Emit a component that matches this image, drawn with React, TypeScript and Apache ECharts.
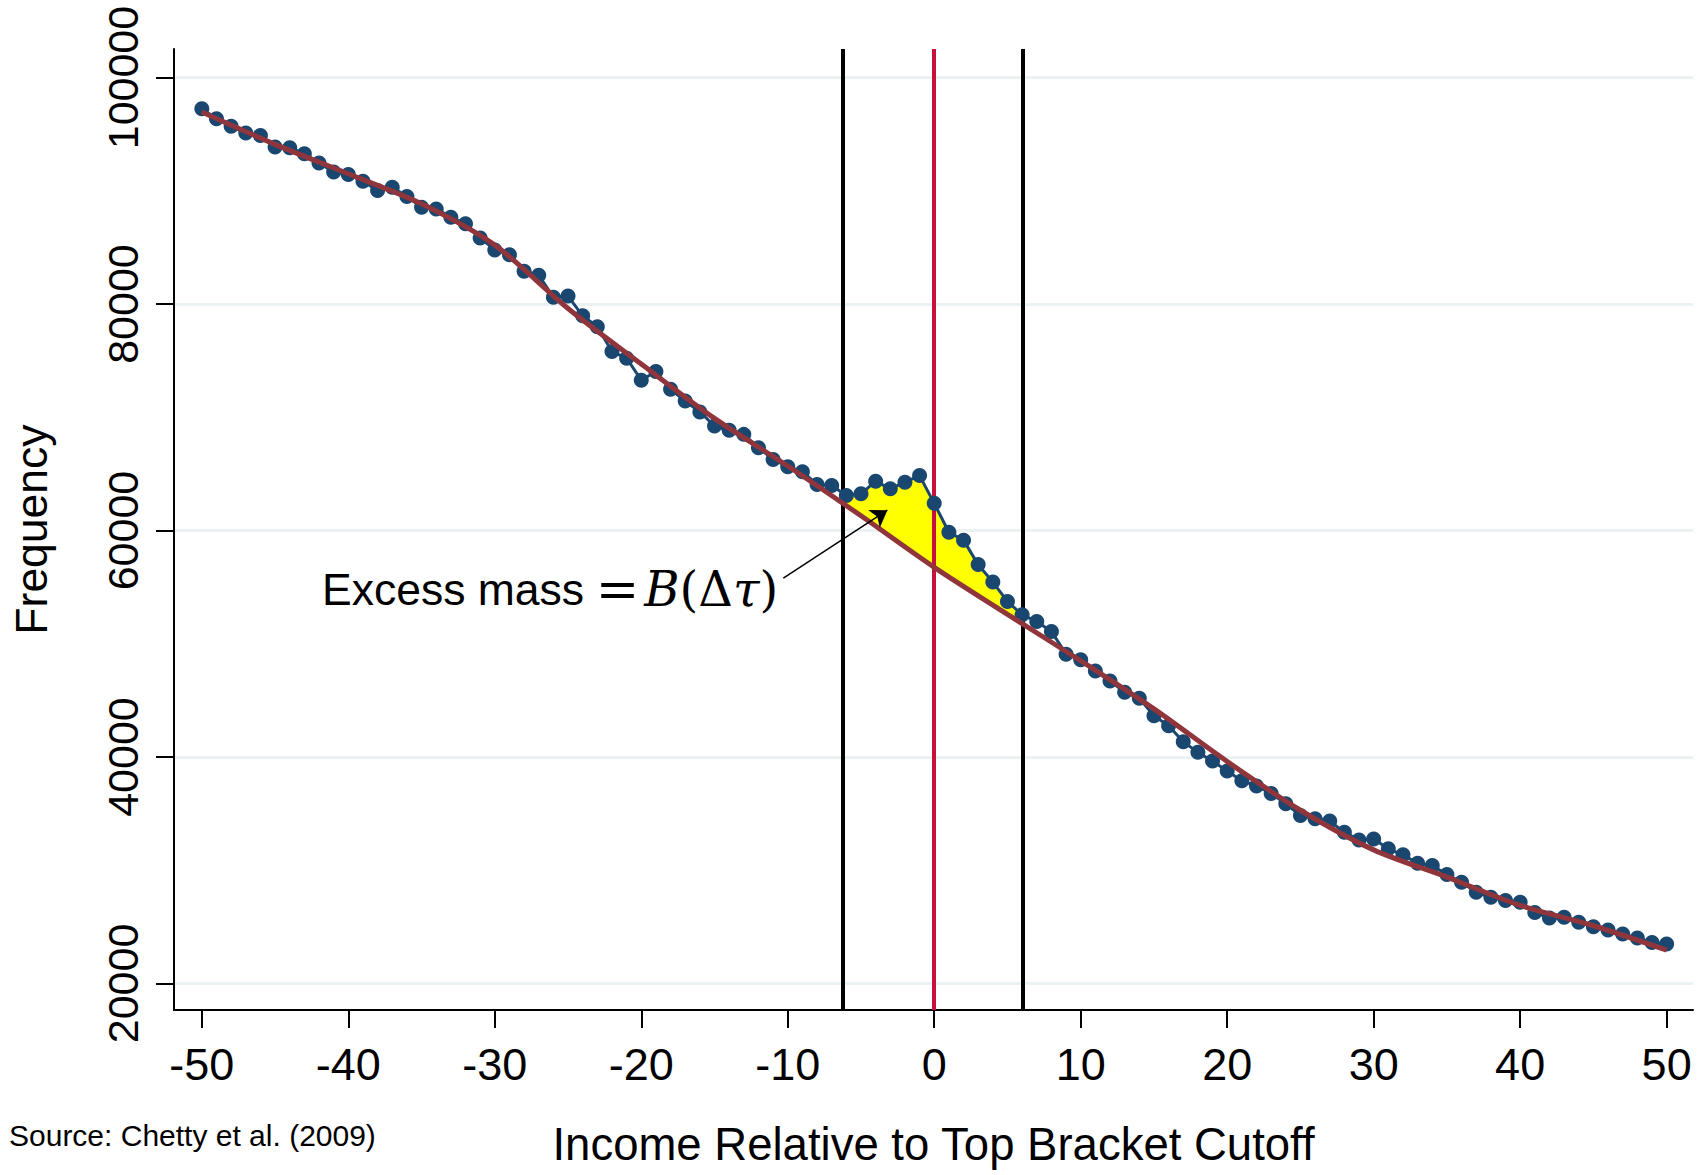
import React, { useEffect, useRef } from "react";
import * as echarts from "echarts";

// ---------- data ----------
const incomeBins = [
  -50, -49, -48, -47, -46, -45, -44, -43, -42, -41,
  -40, -39, -38, -37, -36, -35, -34, -33, -32, -31,
  -30, -29, -28, -27, -26, -25, -24, -23, -22, -21,
  -20, -19, -18, -17, -16, -15, -14, -13, -12, -11,
  -10, -9, -8, -7, -6, -5, -4, -3, -2, -1,
  0, 1, 2, 3, 4, 5, 6, 7, 8, 9,
  10, 11, 12, 13, 14, 15, 16, 17, 18, 19,
  20, 21, 22, 23, 24, 25, 26, 27, 28, 29,
  30, 31, 32, 33, 34, 35, 36, 37, 38, 39,
  40, 41, 42, 43, 44, 45, 46, 47, 48, 49,
  50,
];

const frequencyCounts = [
  97250, 96370, 95690, 95100, 94890, 93860, 93800, 93270, 92450, 91650,
  91440, 90850, 90030, 90320, 89500, 88550, 88400, 87670, 87080, 85840,
  84780, 84360, 82900, 82550, 80600, 80700, 78960, 78000, 75800, 75220,
  73270, 74040, 72470, 71440, 70470, 69230, 68850, 68490, 67310, 66280,
  65630, 65190, 64070, 63980, 63090, 63240, 64360, 63680, 64270, 64850,
  62400, 59850, 59150, 56990, 55450, 53740, 52560, 51970, 51090, 49080,
  48580, 47600, 46720, 45720, 45190, 43650, 42770, 41350, 40410, 39640,
  38760, 37900, 37450, 36780, 35870, 34840, 34540, 34340, 33360, 32680,
  32770, 31890, 31360, 30620, 30410, 29620, 28940, 28050, 27610, 27320,
  27170, 26280, 25780, 25840, 25400, 25010, 24720, 24370, 24010, 23630,
  23480,
];

// counterfactual (fitted) distribution, read every 5 units
const fitBins = [-50, -45, -40, -35, -30, -25, -20, -15, -10, -5, 0, 5, 10, 15, 20, 25, 30, 35, 40, 45, 50];
const fitCounts = [
  96950, 94100, 91500, 88850, 85200, 79600, 74700, 69900, 65700, 61300,
  56750, 52600, 48500, 44250, 39600, 35300, 31800, 29400, 26900, 25100, 22950,
];

// excluded window around the kink and the fitted values where it meets the window edges
const windowEdges = [-6.25, 6.05];
const windowEdgeFit = [62250, 51800];
const bracketCutoff = 0;

const xTickValues = [-50, -40, -30, -20, -10, 0, 10, 20, 30, 40, 50];
const yTickValues = [20000, 40000, 60000, 80000, 100000];

const arrowTail = [-10.3, 55800];
const arrowHead = [-3.2, 61800];

const SANS = "'Liberation Sans', Arial, Helvetica, sans-serif";
const SERIF = "'DejaVu Serif', 'Liberation Serif', 'Times New Roman', serif";

function pointOnPolyline(xs: number[], ys: number[], x: number): number {
  for (let i = 0; i < xs.length - 1; i++) {
    if (x >= xs[i] && x <= xs[i + 1]) {
      const t = (x - xs[i]) / (xs[i + 1] - xs[i]);
      return ys[i] + t * (ys[i + 1] - ys[i]);
    }
  }
  return ys[ys.length - 1];
}

function excessMassPolygon(): number[][] {
  const [lo, hi] = windowEdges;
  const pts: number[][] = [[lo, pointOnPolyline(incomeBins, frequencyCounts, lo)]];
  incomeBins.forEach((x, i) => {
    if (x > lo && x < hi) pts.push([x, frequencyCounts[i]]);
  });
  pts.push([hi, pointOnPolyline(incomeBins, frequencyCounts, hi)]);
  pts.push([hi, windowEdgeFit[1]]);
  for (let i = fitBins.length - 1; i >= 0; i--) {
    if (fitBins[i] > lo && fitBins[i] < hi) pts.push([fitBins[i], fitCounts[i]]);
  }
  pts.push([lo, windowEdgeFit[0]]);
  return pts;
}

export default function App() {
  const ref = useRef<HTMLDivElement>(null);

  useEffect(() => {
    if (!ref.current) return;
    const chart = echarts.init(ref.current, undefined, { renderer: "svg" });

    const polygon = excessMassPolygon();

    const option: any = {
      animation: false,
      backgroundColor: "#ffffff",
      grid: { left: 174, right: 8, top: 49, bottom: 165, containLabel: false },
      xAxis: {
        type: "value",
        min: -51.9,
        max: 51.8,
        name: "Income Relative to Top Bracket Cutoff",
        nameLocation: "middle",
        nameGap: 111,
        nameTextStyle: { fontFamily: SANS, fontSize: 45.5, color: "#000" },
        axisLine: { show: true, onZero: false, lineStyle: { color: "#000", width: 2 } },
        axisTick: { show: true, length: 18, lineStyle: { color: "#000", width: 2 }, customValues: xTickValues },
        axisLabel: {
          fontFamily: SANS,
          fontSize: 45,
          color: "#000",
          margin: 32,
          customValues: xTickValues,
          formatter: (v: number) => String(v),
        },
        splitLine: { show: false },
      },
      yAxis: {
        type: "value",
        min: 17660,
        max: 102520,
        name: "Frequency",
        nameLocation: "middle",
        nameRotate: 90,
        nameGap: 120,
        nameTextStyle: { fontFamily: SANS, fontSize: 44.5, color: "#000" },
        axisLine: { show: true, onZero: false, lineStyle: { color: "#000", width: 2 } },
        axisTick: { show: true, length: 18, lineStyle: { color: "#000", width: 2 }, customValues: yTickValues },
        axisLabel: {
          fontFamily: SANS,
          fontSize: 43,
          color: "#000",
          rotate: 90,
          margin: 30,
          customValues: yTickValues,
          formatter: (v: number) => String(v),
        },
        splitLine: { show: false },
      },
      graphic: [
        {
          type: "text",
          x: 9,
          y: 1135,
          style: {
            text: "Source: Chetty et al. (2009)",
            fontFamily: SANS,
            fontSize: 30,
            fill: "#000",
            verticalAlign: "middle",
          },
        },
        {
          type: "text",
          x: 322,
          y: 589,
          style: {
            text: "{a|Excess mass}{g| }{m|=}{b|B}{p|(Δ}{b|τ}{p|)}",
            verticalAlign: "middle",
            rich: {
              a: { fontFamily: SANS, fontSize: 44.5, fill: "#000" },
              g: { fontFamily: SANS, fontSize: 20, fill: "#000" },
              m: { fontFamily: SERIF, fontSize: 52, fill: "#000", padding: [0, 5, 0, 6] },
              b: { fontFamily: SERIF, fontSize: 48, fontStyle: "italic", fill: "#000" },
              p: { fontFamily: SERIF, fontSize: 48, fill: "#000" },
            },
          },
        },
      ],
      series: [
        {
          name: "gridlines",
          type: "line",
          data: [],
          z: 0,
          silent: true,
          markLine: {
            z: 0,
            silent: true,
            symbol: "none",
            label: { show: false },
            lineStyle: { color: "#eaf2f3", width: 3, type: "solid" },
            data: yTickValues.map((v) => ({ yAxis: v })),
          },
        },
        {
          name: "excess mass",
          type: "custom",
          z: 1,
          silent: true,
          data: [[0, 60000]],
          renderItem: (_params: any, api: any) => ({
            type: "polygon",
            shape: { points: polygon.map((p) => api.coord(p)) },
            style: { fill: "#ffff00", stroke: "none" },
          }),
        },
        {
          name: "window",
          type: "line",
          data: [],
          z: 2,
          silent: true,
          markLine: {
            z: 2,
            silent: true,
            symbol: "none",
            label: { show: false },
            lineStyle: { width: 4, type: "solid" },
            data: [
              { xAxis: windowEdges[0], lineStyle: { color: "#000000", width: 4, type: "solid" } },
              { xAxis: bracketCutoff, lineStyle: { color: "#c8103c", width: 4, type: "solid" } },
              { xAxis: windowEdges[1], lineStyle: { color: "#000000", width: 4, type: "solid" } },
            ],
          },
        },
        {
          name: "Frequency",
          type: "line",
          z: 3,
          data: incomeBins.map((x, i) => [x, frequencyCounts[i]]),
          symbol: "circle",
          symbolSize: 15,
          showSymbol: true,
          itemStyle: { color: "#1a476f", borderWidth: 0 },
          lineStyle: { color: "#1a476f", width: 3 },
        },
        {
          name: "Counterfactual",
          type: "line",
          z: 4,
          smooth: 0.3,
          data: fitBins.map((x, i) => [x, fitCounts[i]]),
          symbol: "none",
          lineStyle: { color: "#90353b", width: 5 },
        },
        {
          name: "arrow",
          type: "line",
          data: [],
          z: 5,
          silent: true,
          markLine: {
            z: 5,
            silent: true,
            symbol: ["none", "arrow"],
            symbolSize: 16,
            label: { show: false },
            lineStyle: { color: "#000", width: 1.5, type: "solid" },
            data: [[{ coord: arrowTail }, { coord: arrowHead }]],
          },
        },
      ],
    };

    chart.setOption(option);
    return () => chart.dispose();
  }, []);

  return (
    <div
      ref={ref}
      style={{ position: "fixed", left: 0, top: 0, width: 1701, height: 1175, background: "#fff" }}
    />
  );
}
